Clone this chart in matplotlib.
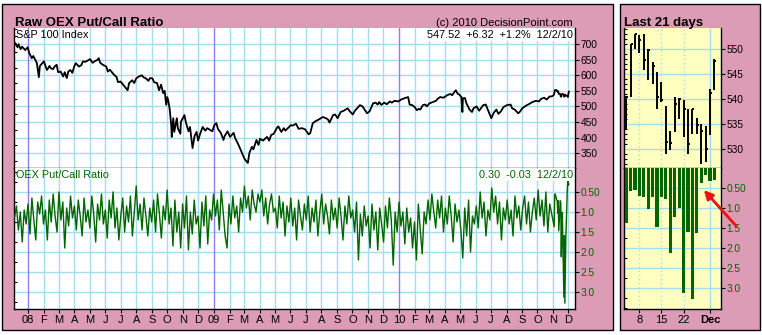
import numpy as np
import pandas as pd
import matplotlib
matplotlib.use('Agg')
import matplotlib.pyplot as plt
import matplotlib.dates as mdates
from matplotlib.patches import Rectangle, FancyArrowPatch
from matplotlib.ticker import FixedLocator, FuncFormatter, MultipleLocator

plt.rcParams['font.family'] = ['Liberation Sans', 'DejaVu Sans']

# ---------------- DATA ----------------
spx_dates = [
    '2007-12-05', '2007-12-07', '2007-12-11', '2007-12-13', '2007-12-17', '2007-12-20', '2007-12-26', '2007-12-31',
    '2008-01-03', '2008-01-08', '2008-01-11', '2008-01-15', '2008-01-18', '2008-01-22', '2008-01-24', '2008-01-29',
    '2008-02-01', '2008-02-05', '2008-02-07', '2008-02-12', '2008-02-15', '2008-02-19', '2008-02-22', '2008-02-26',
    '2008-02-29', '2008-03-05', '2008-03-10', '2008-03-13', '2008-03-17', '2008-03-20', '2008-03-24', '2008-03-28',
    '2008-04-01', '2008-04-04', '2008-04-10', '2008-04-15', '2008-04-18', '2008-04-22', '2008-04-28', '2008-05-02',
    '2008-05-07', '2008-05-12', '2008-05-16', '2008-05-19', '2008-05-22', '2008-05-28', '2008-06-03', '2008-06-06',
    '2008-06-10', '2008-06-14', '2008-06-18', '2008-06-23', '2008-06-26', '2008-07-01', '2008-07-07', '2008-07-11',
    '2008-07-15', '2008-07-18', '2008-07-24', '2008-07-28', '2008-08-01', '2008-08-06', '2008-08-12', '2008-08-15',
    '2008-08-20', '2008-08-25', '2008-08-28', '2008-09-02', '2008-09-05', '2008-09-11', '2008-09-15', '2008-09-19',
    '2008-09-23', '2008-09-26', '2008-09-29', '2008-10-01', '2008-10-03', '2008-10-06', '2008-10-09', '2008-10-10',
    '2008-10-13', '2008-10-15', '2008-10-20', '2008-10-22', '2008-10-27', '2008-10-28', '2008-11-04', '2008-11-07',
    '2008-11-12', '2008-11-15', '2008-11-20', '2008-11-24', '2008-11-28', '2008-12-01', '2008-12-05', '2008-12-10',
    '2008-12-15', '2008-12-19', '2008-12-29', '2009-01-02', '2009-01-06', '2009-01-09', '2009-01-15', '2009-01-20',
    '2009-01-22', '2009-01-28', '2009-02-02', '2009-02-09', '2009-02-12', '2009-02-17', '2009-02-23', '2009-02-27',
    '2009-03-03', '2009-03-09', '2009-03-12', '2009-03-17', '2009-03-20', '2009-03-26', '2009-03-30', '2009-04-02',
    '2009-04-08', '2009-04-16', '2009-04-20', '2009-04-24', '2009-04-29', '2009-05-05', '2009-05-08', '2009-05-14',
    '2009-05-19', '2009-05-22', '2009-05-27', '2009-06-02', '2009-06-05', '2009-06-12', '2009-06-17', '2009-06-24',
    '2009-06-30', '2009-07-07', '2009-07-10', '2009-07-15', '2009-07-20', '2009-07-27', '2009-08-04', '2009-08-10',
    '2009-08-14', '2009-08-17', '2009-08-24', '2009-08-28', '2009-09-02', '2009-09-08', '2009-09-14', '2009-09-22',
    '2009-09-25', '2009-10-02', '2009-10-06', '2009-10-16', '2009-10-21', '2009-10-30', '2009-11-04', '2009-11-11',
    '2009-11-16', '2009-11-20', '2009-11-23', '2009-11-27', '2009-12-03', '2009-12-08', '2009-12-14', '2009-12-18',
    '2009-12-23', '2009-12-31', '2010-01-05', '2010-01-08', '2010-01-13', '2010-01-19', '2010-01-22', '2010-01-27',
    '2010-02-01', '2010-02-05', '2010-02-09', '2010-02-12', '2010-02-17', '2010-02-22', '2010-02-25', '2010-03-02',
    '2010-03-09', '2010-03-15', '2010-03-18', '2010-03-23', '2010-03-30', '2010-04-06', '2010-04-12', '2010-04-16',
    '2010-04-20', '2010-04-23', '2010-04-27', '2010-04-30', '2010-05-04', '2010-05-06', '2010-05-07', '2010-05-11',
    '2010-05-14', '2010-05-20', '2010-05-25', '2010-05-28', '2010-06-03', '2010-06-08', '2010-06-16', '2010-06-21',
    '2010-06-29', '2010-07-02', '2010-07-07', '2010-07-12', '2010-07-16', '2010-07-21', '2010-07-26', '2010-08-02',
    '2010-08-09', '2010-08-12', '2010-08-17', '2010-08-24', '2010-08-27', '2010-09-01', '2010-09-10', '2010-09-15',
    '2010-09-21', '2010-09-28', '2010-10-04', '2010-10-08', '2010-10-14', '2010-10-19', '2010-10-25', '2010-10-29',
    '2010-11-02',
]
spx_values = [
    697, 703, 690, 700, 684, 692, 681, 690,
    672, 655, 662, 649, 640, 594, 630, 639,
    645, 625, 617, 630, 622, 620, 628, 634,
    610, 612, 596, 610, 591, 612, 617, 608,
    630, 639, 628, 633, 645, 643, 648, 652,
    640, 646, 649, 655, 640, 633, 628, 612,
    618, 610, 602, 595, 578, 580, 568, 560,
    552, 575, 584, 575, 590, 596, 600, 594,
    590, 582, 591, 590, 578, 575, 552, 570,
    543, 550, 505, 530, 520, 490, 440, 402,
    462, 418, 462, 430, 412, 450, 472, 448,
    420, 434, 366, 405, 418, 390, 412, 434,
    422, 430, 420, 440, 446, 428, 414, 392,
    404, 420, 402, 415, 398, 382, 360, 344,
    330, 318, 350, 370, 362, 392, 376, 396,
    390, 402, 390, 408, 412, 430, 436, 418,
    430, 422, 430, 440, 438, 444, 428, 430,
    426, 410, 414, 446, 452, 458, 466, 462,
    458, 448, 472, 474, 462, 482, 486, 494,
    486, 474, 486, 504, 500, 478, 484, 510,
    512, 506, 514, 505, 512, 507, 516, 512,
    518, 516, 522, 524, 527, 530, 506, 504,
    498, 488, 492, 490, 504, 506, 500, 510,
    514, 518, 524, 530, 528, 536, 540, 536,
    546, 552, 540, 538, 530, 482, 526, 527,
    510, 490, 482, 494, 500, 486, 504, 506,
    474, 462, 480, 490, 476, 484, 498, 504,
    506, 494, 490, 478, 482, 494, 504, 508,
    514, 518, 516, 524, 528, 522, 532, 532,
    536,
]

# OEX put/call ratio, Dec 2007 .. Oct 2010 (read roughly 8 per month)
pc_start = '2007-12-05'
pc_end = '2010-10-29'
pc_values = [
    1.15, 0.85, 1.45, 1.0, 1.75, 0.95, 1.3,
    0.8, 1.55, 0.65, 1.2, 1.7, 0.75, 1.05, 0.6,
    1.3, 0.95, 1.7, 0.7, 1.25, 0.55, 1.1, 1.5,
    0.5, 1.2, 0.75, 1.9, 0.9, 1.35, 0.6, 1.15,
    0.85, 1.45, 0.7, 1.1, 1.6, 0.65, 1.25, 0.95,
    1.4, 0.6, 1.05, 1.75, 0.8, 1.2, 0.55, 1.3,
    0.95, 1.65, 0.7, 1.15, 0.5, 1.4, 0.9, 1.7,
    1.1, 0.65, 1.5, 0.85, 1.25, 0.6, 1.6, 1.0,
    0.35, 1.2, 0.8, 1.45, 0.65, 1.1, 1.6, 0.9,
    1.25, 0.7, 1.5, 0.55, 1.05, 1.65, 0.85, 1.2,
    0.45, 1.3, 0.9, 1.85, 0.7, 1.5, 1.0, 1.9,
    0.8, 1.4, 0.6, 1.95, 1.0, 1.55, 0.7, 1.3,
    1.1, 1.9, 0.75, 1.35, 0.6, 1.8, 0.95, 1.2,
    0.55, 1.1, 0.7, 1.45, 0.45, 1.0, 1.6, 1.9,
    0.8, 1.3, 0.6, 1.15, 0.85, 1.5, 0.65, 1.0,
    0.35, 0.9, 0.6, 1.2, 0.45, 0.8, 1.0, 0.55,
    0.75, 0.45, 1.1, 0.65, 1.3, 0.8, 0.55, 1.0,
    0.9, 1.4, 0.6, 1.15, 0.75, 1.6, 0.85, 1.25,
    0.65, 1.35, 0.9, 1.7, 0.7, 1.1, 1.45, 0.8,
    1.2, 0.6, 1.5, 0.9, 1.25, 0.7, 1.6, 1.0,
    0.55, 1.3, 0.8, 1.1, 1.55, 0.7, 1.2, 0.9,
    1.4, 0.65, 1.1, 1.7, 0.85, 1.3, 0.6, 1.15,
    0.95, 1.5, 0.75, 2.2, 1.05, 1.6, 0.85, 1.35,
    1.1, 1.9, 0.8, 1.45, 1.0, 1.95, 0.9, 1.3,
    1.75, 0.85, 1.4, 0.65, 1.2, 2.33, 1.0, 1.5,
    0.75, 1.35, 1.0, 1.8, 0.9, 1.5, 1.15, 1.9,
    1.25, 2.2, 0.8, 1.45, 2.05, 1.0, 1.3, 0.7,
    1.2, 0.55, 1.0, 1.4, 0.7, 1.15, 0.6, 1.5,
    0.9, 1.3, 0.6, 1.1, 1.75, 0.8, 1.25, 0.95,
    1.45, 2.15, 0.9, 1.6, 0.7, 2.0, 1.1, 1.3,
    0.85, 1.4, 0.5, 1.15, 0.75, 1.6, 0.95, 1.2,
    0.4, 1.0, 0.6, 1.3, 0.75, 1.7, 0.9, 1.2,
    0.7, 1.3, 0.95, 1.6, 0.6, 1.15, 0.85, 1.45,
    0.9, 0.6, 1.3, 0.75, 1.5, 1.0, 0.65, 1.2,
    0.45, 1.1, 0.7, 1.35, 0.5, 1.5, 0.8, 1.05,
]

# Last 21 trading days
last_dates = ['2010-11-03', '2010-11-04', '2010-11-05', '2010-11-08', '2010-11-09', '2010-11-10',
              '2010-11-11', '2010-11-12', '2010-11-15', '2010-11-16', '2010-11-17', '2010-11-18',
              '2010-11-19', '2010-11-22', '2010-11-23', '2010-11-24', '2010-11-26', '2010-11-29',
              '2010-11-30', '2010-12-01', '2010-12-02']
last_high = [540.6, 551.0, 553.1, 552.8, 553.1, 550.1, 547.5, 545.5, 543.5, 538.6, 533.6,
             540.5, 540.3, 539.8, 538.1, 538.1, 536.3, 535.0, 534.6, 542.1, 548.1]
last_low = [534.1, 540.5, 550.1, 549.3, 545.8, 543.8, 543.1, 538.1, 539.5, 529.1, 529.9,
            533.5, 536.1, 532.5, 529.1, 533.1, 533.1, 527.1, 527.5, 532.8, 541.8]
last_close = [540.5, 551.0, 553.0, 551.8, 547.9, 549.8, 546.6, 540.5, 539.8, 531.5, 531.3,
              539.1, 540.1, 538.1, 531.0, 538.0, 534.8, 533.6, 530.0, 541.2, 547.52]
last_pc = [1.37, 0.57, 0.55, 0.70, 0.72, 1.03, 0.72, 1.47, 0.72, 0.78, 2.12,
           1.22, 1.01, 3.13, 1.59, 3.28, 1.62, 0.38, 0.18, 0.33, 0.30]
last_tick_idx = [3, 8, 13, 19]
last_tick_lbl = ['8', '15', '22', 'Dec']

# ---------------- STYLE ----------------
PINK = '#DC9CB6'
GRID = '#A6DCF0'
YEARC = '#8C80F0'
GREEN = '#006600'
YELLOW = '#FFFFC0'
W, H = 762, 335

fig = plt.figure(figsize=(W / 100, H / 100), dpi=100, facecolor='white')


def fr(x0, y0, x1, y1):
    return [x0 / W, 1 - y1 / H, (x1 - x0) / W, (y1 - y0) / H]


fig.add_artist(Rectangle((2 / W, 1 - 330 / H), 611 / W, 326 / H, transform=fig.transFigure,
                         facecolor=PINK, edgecolor='black', lw=1.0, zorder=-10))
fig.add_artist(Rectangle((620 / W, 1 - 330 / H), 140 / W, 326 / H, transform=fig.transFigure,
                         facecolor=PINK, edgecolor='black', lw=1.0, zorder=-10))

ax1 = fig.add_axes(fr(14, 28, 575, 168))
ax2 = fig.add_axes(fr(14, 168, 575, 309), sharex=ax1)
ax3 = fig.add_axes(fr(624, 28, 721, 168))
ax4 = fig.add_axes(fr(624, 168, 721, 309), sharex=ax3)

for ax, fc in ((ax1, 'white'), (ax2, 'white'), (ax3, YELLOW), (ax4, YELLOW)):
    ax.set_facecolor(fc)
    for s in ('left', 'right', 'bottom'):
        ax.spines[s].set_color('black')
        ax.spines[s].set_linewidth(1.0)
    ax.spines['top'].set_visible(False)

sd = pd.to_datetime(spx_dates + last_dates)
sv = np.array(spx_values + last_close, dtype=float)
pd_main = pd.date_range(pc_start, pc_end, periods=len(pc_values))
pdates = pd_main.append(pd.to_datetime(last_dates))
pvals = np.array(pc_values + last_pc, dtype=float)

x0 = pd.Timestamp('2007-12-04')
x1 = pd.Timestamp('2010-12-14')
months = pd.date_range('2008-01-01', '2010-12-01', freq='MS')

for ax in (ax1, ax2):
    for m in months:
        ax.axvline(m, color=YEARC if m.month == 1 else GRID, lw=1.0, zorder=1)

ax1.plot(sd, sv, color='black', lw=1.3, zorder=3)
ax2.plot(pdates, pvals, color=GREEN, lw=1.0, zorder=3)

ax1.set_xlim(x0, x1)
ax1.set_ylim(302, 752)
ax2.set_ylim(3.425, -0.1)

for y in range(350, 701, 50):
    ax1.axhline(y, color=GRID, lw=1.0, zorder=0.5)
for y in [0.5, 1.0, 1.5, 2.0, 2.5, 3.0]:
    ax2.axhline(y, color=GRID, lw=1.0, zorder=0.5)

ax1.set_yticks(range(350, 701, 50))
ax1.yaxis.set_minor_locator(MultipleLocator(25))
ax2.set_yticks([0.5, 1.0, 1.5, 2.0, 2.5, 3.0])
ax2.set_yticklabels(['0.50', '1.0', '1.5', '2.0', '2.5', '3.0'])
ax2.yaxis.set_minor_locator(MultipleLocator(0.25))

for ax, col in ((ax1, 'black'), (ax2, GREEN)):
    ax.tick_params(axis='y', which='major', left=False, right=True, labelleft=False, labelright=True,
                   direction='out', length=3, width=0.8, pad=1, labelsize=7.3, labelcolor=col)
    ax.tick_params(axis='y', which='minor', left=True, right=False, direction='in', length=2, width=0.8)

ax1.tick_params(axis='x', which='both', bottom=False, labelbottom=False)
ax2.xaxis.set_major_locator(FixedLocator(mdates.date2num(months)))


def mfmt(v, pos):
    d = mdates.num2date(v)
    if d.month == 1:
        return '%02d' % (d.year % 100)
    return 'JFMAMJJASOND'[d.month - 1]


ax2.xaxis.set_major_formatter(FuncFormatter(mfmt))
ax2.tick_params(axis='x', which='major', direction='out', length=3, width=0.8, pad=1.5, labelsize=8)

# ---- right panel ----
idx = np.arange(len(last_dates))
for t in last_tick_idx[:3]:
    for ax in (ax3, ax4):
        ax.axvline(t, color=GRID, lw=1.0, ls=(0, (1, 2)), zorder=1)
for ax in (ax3, ax4):
    ax.axvline(last_tick_idx[3], color=GRID, lw=1.0, zorder=1)
for y in [530, 535, 540, 545, 550]:
    ax3.axhline(y, color=GRID, lw=1.0, zorder=0.5)
for y in [0.5, 1.0, 1.5, 2.0, 2.5, 3.0]:
    ax4.axhline(y, color=GRID, lw=1.0, zorder=0.5)

ax3.vlines(idx, last_low, last_high, color='black', lw=1.4, zorder=3)
ax3.hlines(last_close, idx, idx + 0.45, color='black', lw=1.4, zorder=3)
ax4.bar(idx, last_pc, width=0.72, bottom=0, color=GREEN, zorder=3)

ax3.set_xlim(-0.5, 21.5)
ax3.set_ylim(526.2, 554.2)
ax4.set_ylim(3.525, 0)

ax3.set_yticks([530, 535, 540, 545, 550])
ax3.yaxis.set_minor_locator(MultipleLocator(1))
ax4.set_yticks([0.5, 1.0, 1.5, 2.0, 2.5, 3.0])
ax4.set_yticklabels(['0.50', '1.0', '1.5', '2.0', '2.5', '3.0'])
ax4.yaxis.set_minor_locator(MultipleLocator(0.25))
for ax, col in ((ax3, 'black'), (ax4, GREEN)):
    ax.tick_params(axis='y', which='major', left=False, right=True, labelleft=False, labelright=True,
                   direction='out', length=3, width=0.8, pad=1, labelsize=7.3, labelcolor=col)
    ax.tick_params(axis='y', which='minor', left=True, right=False, direction='in', length=2, width=0.8)
ax3.tick_params(axis='x', which='both', bottom=False, labelbottom=False)
ax4.set_xticks(last_tick_idx)
ax4.set_xticklabels(last_tick_lbl)
ax4.tick_params(axis='x', direction='out', length=3, width=0.8, pad=1.5, labelsize=8)
ax4.get_xticklabels()[-1].set_fontweight('bold')

# ---- texts ----
fig.text(15 / W, 1 - 26 / H, 'Raw OEX Put/Call Ratio', fontsize=9.5, fontweight='bold', va='baseline', ha='left')
fig.text(624 / W, 1 - 26 / H, 'Last 21 days', fontsize=9.5, fontweight='bold', va='baseline', ha='left')
fig.text(573 / W, 1 - 26 / H, '(c) 2010 DecisionPoint.com', fontsize=8, va='baseline', ha='right')
ax1.text(0.004, 0.985, 'S&P 100 Index', transform=ax1.transAxes, fontsize=7.8, va='top', ha='left', zorder=5)
ax1.text(0.996, 0.985, '547.52  +6.32  +1.2%  12/2/10', transform=ax1.transAxes, fontsize=7.8,
         va='top', ha='right', zorder=5, bbox=dict(facecolor='white', edgecolor='none', pad=0.5))
ax2.text(0.004, 0.985, 'OEX Put/Call Ratio', transform=ax2.transAxes, fontsize=7.8, color=GREEN,
         va='top', ha='left', zorder=5)
ax2.text(0.996, 0.985, '0.30  -0.03  12/2/10', transform=ax2.transAxes, fontsize=7.8, color=GREEN,
         va='top', ha='right', zorder=5, bbox=dict(facecolor='white', edgecolor='none', pad=0.5))

arrow = FancyArrowPatch(posA=(738 / W, 1 - 228 / H), posB=(702 / W, 1 - 188 / H),
                        transform=fig.transFigure, arrowstyle='-|>', mutation_scale=13,
                        color='#EE1111', lw=2.0, zorder=20)
fig.add_artist(arrow)

fig.savefig('out.png', dpi=100, facecolor='white')
